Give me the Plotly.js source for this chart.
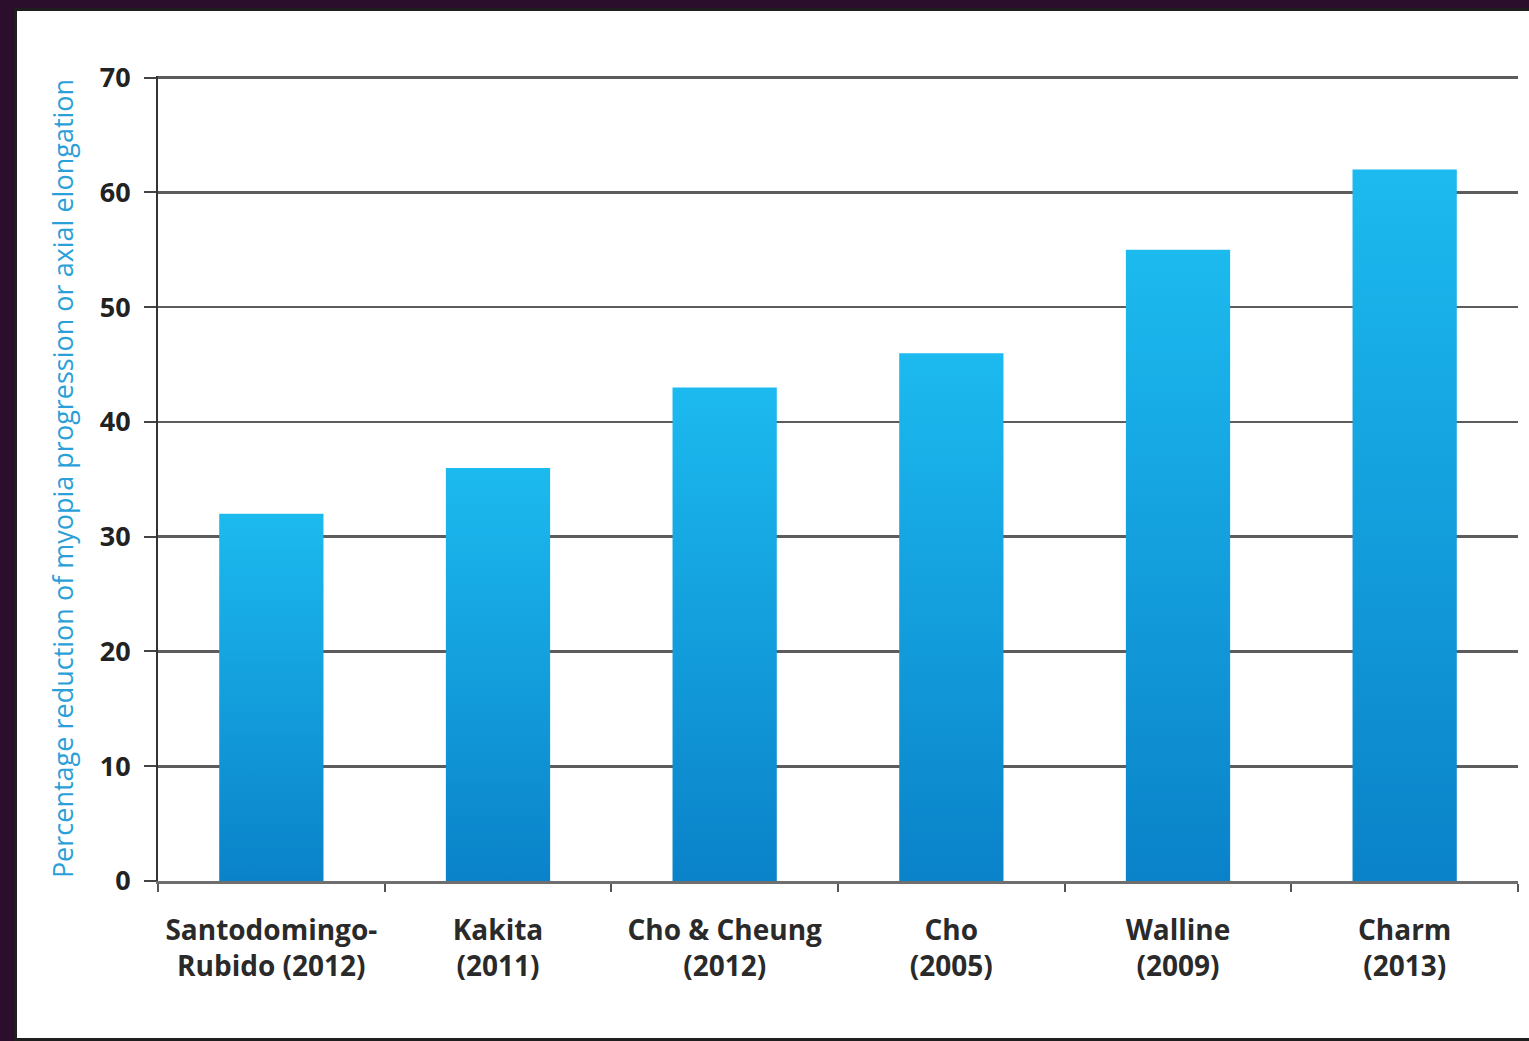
<!DOCTYPE html>
<html>
<head>
<meta charset="utf-8">
<script src="https://cdn.plot.ly/plotly-3.0.1.min.js"></script>
<style>
  html, body { margin: 0; padding: 0; background: #2a0e2c; width: 1529px; height: 1041px; overflow: hidden; }
  #frame { position: absolute; left: 14px; top: 8px; width: 1540px; height: 1027px; background: #fff;
           border-left: 3px solid #1e1e1e; border-top: 3px solid #1e1e1e; border-bottom: 3px solid #1e1e1e; }
  #chart { position: absolute; left: 0; top: 0; width: 1530px; height: 1027px; }
</style>
</head>
<body>
<div id="frame"><div id="chart"></div></div>
<script>
const categories = [
  "Santodomingo-<br>Rubido (2012)",
  "Kakita<br>(2011)",
  "Cho &amp; Cheung<br>(2012)",
  "Cho<br>(2005)",
  "Walline<br>(2009)",
  "Charm<br>(2013)"
];
const reductionValues = [32, 36, 43, 46, 55, 62];
const yTickValues = [0, 10, 20, 30, 40, 50, 60, 70];
const yAxisTitle = "Percentage reduction of myopia progression or axial elongation";

const trace = {
  type: "bar",
  x: categories,
  y: reductionValues,
  width: 0.46,
  marker: { color: "#0e9ddd", line: { width: 0 } },
  hoverinfo: "skip"
};

const layout = {
  width: 1530,
  height: 1027,
  margin: { l: 141, r: 29, t: 65, b: 157 },
  paper_bgcolor: "#ffffff",
  plot_bgcolor: "#ffffff",
  showlegend: false,
  bargap: 0.54,
  xaxis: {
    type: "category",
    showgrid: false,
    zeroline: false,
    showline: true,
    linecolor: "#6e6e6e",
    linewidth: 3,
    ticks: "outside",
    tickson: "boundaries",
    ticklen: 8,
    tickwidth: 2,
    tickcolor: "#555",
    ticklabelstandoff: 22,
    tickfont: { family: "Open Sans, DejaVu Sans", size: 28, color: "#2a2a2a", weight: "bold" },
    automargin: false
  },
  yaxis: {
    range: [0, 70.15],
    tickvals: yTickValues,
    showgrid: true,
    gridcolor: "#5c5c5c",
    gridwidth: 2.5,
    zeroline: false,
    showline: true,
    linecolor: "#333",
    linewidth: 2,
    ticks: "outside",
    ticklen: 12,
    tickwidth: 2,
    tickcolor: "#444",
    ticklabelstandoff: 8,
    tickfont: { family: "Open Sans, DejaVu Sans", size: 27, color: "#222", weight: "bold" },
    title: {
      text: yAxisTitle,
      font: { family: "Open Sans, DejaVu Sans", size: 27, color: "#2a9fd8" },
      standoff: 18
    },
    automargin: false
  }
};

Plotly.newPlot("chart", [trace], layout, { displayModeBar: false, staticPlot: true }).then(function (gd) {
  const svg = gd.querySelector("svg.main-svg");
  const ns = "http://www.w3.org/2000/svg";
  let defs = svg.querySelector("defs");
  if (!defs) { defs = document.createElementNS(ns, "defs"); svg.insertBefore(defs, svg.firstChild); }
  const grad = document.createElementNS(ns, "linearGradient");
  grad.setAttribute("id", "barGrad");
  grad.setAttribute("x1", "0"); grad.setAttribute("y1", "0");
  grad.setAttribute("x2", "0"); grad.setAttribute("y2", "1");
  [["0%", "#1cbaef"], ["100%", "#0a82c9"]].forEach(function (s) {
    const st = document.createElementNS(ns, "stop");
    st.setAttribute("offset", s[0]);
    st.setAttribute("stop-color", s[1]);
    grad.appendChild(st);
  });
  defs.appendChild(grad);
  gd.querySelectorAll(".barlayer .point path").forEach(function (p) {
    p.style.fill = "url(#barGrad)";
  });
});
</script>
</body>
</html>
